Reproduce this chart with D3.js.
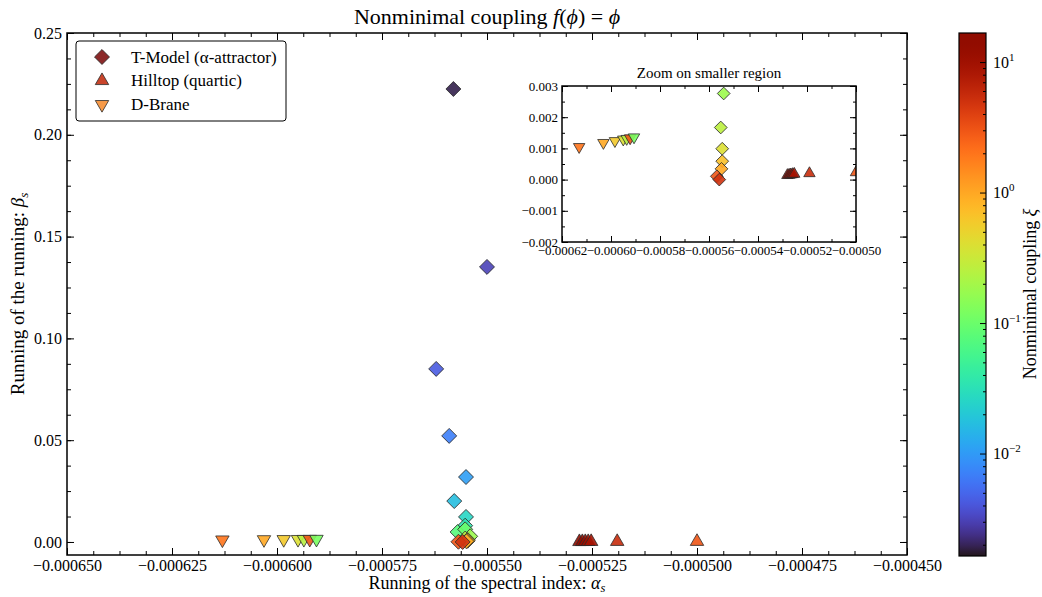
<!DOCTYPE html>
<html>
<head>
<meta charset="utf-8">
<script src="https://cdn.jsdelivr.net/npm/d3@7"></script>
<style>
  body { margin: 0; background: #fff; }
  svg text { font-family: "Liberation Serif", "DejaVu Serif", serif; fill: #000; }
</style>
</head>
<body>
<svg id="chart" width="1042" height="597"></svg>
<script>
// T-Model (alpha-attractor): running alpha_s, running of running beta_s, coupling xi
var tmodelAlpha = [-0.000558, -0.000550, -0.0005621, -0.000559, -0.000555, -0.0005578, -0.000555, -0.0005552,
  -0.000557, -0.0005552, -0.000554, -0.0005552, -0.0005546, -0.0005546, -0.0005549, -0.0005568, -0.0005558];
var tmodelBeta = [0.2225, 0.1351, 0.0850, 0.0521, 0.0319, 0.0201, 0.0123, 0.0080,
  0.0049, 0.0062, 0.00276, 0.00167, 0.00099, 0.00059, 0.000345, 0.000107, 0.0];
var tmodelXi = [0.0019, 0.0031, 0.0043, 0.0068, 0.0105, 0.017, 0.026, 0.035,
  0.075, 0.1, 0.18, 0.26, 0.4, 0.7, 1.0, 3.0, 5.0];

// Hilltop (quartic)
var hilltopAlpha = [-0.000528, -0.0005273, -0.0005266, -0.0005259, -0.0005252, -0.000519, -0.0005];
var hilltopBeta = [0.00014, 0.00015, 0.00016, 0.00017, 0.00018, 0.0002, 0.00023];
var hilltopXi = [16, 14, 12, 10.5, 9, 5.5, 3];

// D-Brane
var dbraneAlpha = [-0.000613, -0.0006031, -0.0005984, -0.000595, -0.0005936, -0.0005922, -0.0005906];
var dbraneBeta = [0.00105, 0.00118, 0.00124, 0.00129, 0.00131, 0.00133, 0.00136];
var dbraneXi = [2.0, 1.0, 0.6, 0.4, 0.25, 3.0, 0.12];

var legendLabels = ["T-Model (\u03b1-attractor)", "Hilltop (quartic)", "D-Brane"];
var legendColors = ["#8c2a2a", "#c9452b", "#f79a48"];
var colorbarTicks = [0.01, 0.1, 1, 10];
var xiDomain = [0.00164, 16.7];

const svg = d3.select("#chart");
const color = d3.scaleSequentialLog(d3.interpolateTurbo).domain(xiDomain);

const zip = (a, b, c) => a.map((v, i) => ({ a: v, b: b[i], xi: c[i] }));
const series = [
  { name: "tmodel", shape: "diamond", pts: zip(tmodelAlpha, tmodelBeta, tmodelXi) },
  { name: "hilltop", shape: "up", pts: zip(hilltopAlpha, hilltopBeta, hilltopXi) },
  { name: "dbrane", shape: "down", pts: zip(dbraneAlpha, dbraneBeta, dbraneXi) }
];

function markerPath(shape, scale) {
  if (shape === "diamond") return d3.symbol(d3.symbolSquare, 112 * scale * scale)();
  return d3.symbol(d3.symbolTriangle, 78 * scale * scale)();
}
function markerRot(shape) {
  return shape === "diamond" ? 45 : (shape === "down" ? 180 : 0);
}

// generic inward-tick frame
function frame(g, x, y, opt) {
  const [x0, x1] = x.range(), [y0, y1] = y.range();
  const w = x1 - x0, h = y0 - y1;
  const mk = (axis, scale, vals, size, fmt, tr) => {
    const a = g.append("g").attr("transform", tr)
      .call(axis(scale).tickValues(vals).tickSize(-size).tickSizeOuter(0)
        .tickPadding(opt.pad).tickFormat(fmt || ""));
    a.select(".domain").remove();
    a.selectAll("line").attr("stroke", "#000").attr("stroke-width", 1);
    a.selectAll("text").style("font-size", opt.font + "px").attr("fill", "#000");
    return a;
  };
  mk(d3.axisBottom, x, opt.xMajor, opt.major, opt.xFmt, `translate(0,${y0})`);
  mk(d3.axisBottom, x, opt.xMinor, opt.minor, null, `translate(0,${y0})`);
  mk(d3.axisTop, x, opt.xMajor, opt.major, null, `translate(0,${y1})`);
  mk(d3.axisTop, x, opt.xMinor, opt.minor, null, `translate(0,${y1})`);
  mk(d3.axisLeft, y, opt.yMajor, opt.major, opt.yFmt, `translate(${x0},0)`);
  mk(d3.axisLeft, y, opt.yMinor, opt.minor, null, `translate(${x0},0)`);
  mk(d3.axisRight, y, opt.yMajor, opt.major, null, `translate(${x1},0)`);
  mk(d3.axisRight, y, opt.yMinor, opt.minor, null, `translate(${x1},0)`);
  g.append("rect").attr("x", x0).attr("y", y1).attr("width", w).attr("height", h)
    .attr("fill", "none").attr("stroke", "#000").attr("stroke-width", 1.5);
}

function stepVals(lo, hi, step) {
  const out = [];
  const n = Math.round((hi - lo) / step);
  for (let i = 0; i <= n; i++) out.push(lo + i * step);
  return out;
}

function drawPoints(g, x, y, scale) {
  series.forEach(s => {
    g.append("g").selectAll("path")
      .data(s.pts)
      .enter()
      .append("path")
      .attr("d", markerPath(s.shape, scale))
      .attr("transform", d => `translate(${x(d.a)},${y(d.b)}) rotate(${markerRot(s.shape)})`)
      .attr("fill", d => color(d.xi))
      .attr("fill-opacity", 0.9)
      .attr("stroke", "#2b2b2b")
      .attr("stroke-width", 0.8);
  });
}

// ---------- main axes ----------
const x = d3.scaleLinear().domain([-0.00065, -0.00045]).range([67, 907]);
const y = d3.scaleLinear().domain([-0.0064, 0.25]).range([555, 33]);
const main = svg.append("g");

drawPoints(main, x, y, 1);

frame(main, x, y, {
  major: 7, minor: 4, pad: 5, font: 16,
  xMajor: stepVals(-0.00065, -0.00045, 0.000025),
  xMinor: stepVals(-0.00065, -0.00045, 0.00000625),
  yMajor: stepVals(0, 0.25, 0.05),
  yMinor: stepVals(0, 0.25, 0.0125),
  xFmt: d3.format(".6f"), yFmt: d3.format(".2f")
});

svg.append("text")
  .attr("x", 487).attr("y", 24).attr("text-anchor", "middle")
  .style("font-size", "22px")
  .html('Nonminimal coupling <tspan font-style="italic">f</tspan>(<tspan font-style="italic">\u03d5</tspan>) = <tspan font-style="italic">\u03d5</tspan>');

svg.append("text")
  .attr("x", 487).attr("y", 589).attr("text-anchor", "middle")
  .style("font-size", "18px")
  .html('Running of the spectral index: <tspan font-style="italic">\u03b1</tspan><tspan font-style="italic" font-size="12.5px" dy="3">s</tspan>');

svg.append("text")
  .attr("transform", "translate(24,294) rotate(-90)")
  .attr("text-anchor", "middle")
  .style("font-size", "19px")
  .html('Running of the running: <tspan font-style="italic">\u03b2</tspan><tspan font-style="italic" font-size="13px" dy="4">s</tspan>');

// ---------- legend ----------
const legend = svg.append("g");
legend.append("rect")
  .attr("x", 76).attr("y", 41).attr("width", 210).attr("height", 80)
  .attr("rx", 3).attr("fill", "#fff").attr("stroke", "#000").attr("stroke-width", 1);
legendLabels.forEach((lab, i) => {
  const yy = 57 + i * 23.7;
  const shape = series[i].shape;
  legend.append("path")
    .attr("d", markerPath(shape, 1))
    .attr("transform", `translate(102,${yy}) rotate(${markerRot(shape)})`)
    .attr("fill", legendColors[i])
    .attr("stroke", "#2b2b2b").attr("stroke-width", 0.8);
  legend.append("text")
    .attr("x", 131).attr("y", yy + 5.5)
    .style("font-size", "17px")
    .text(lab);
});

// ---------- inset ----------
const ix = d3.scaleLinear().domain([-0.00062, -0.0005]).range([562, 856]);
const iy = d3.scaleLinear().domain([-0.002, 0.003]).range([242, 86]);
const inset = svg.append("g");
inset.append("rect").attr("x", 562).attr("y", 86).attr("width", 294).attr("height", 156).attr("fill", "#fff");
svg.append("clipPath").attr("id", "insetClip")
  .append("rect").attr("x", 562).attr("y", 86).attr("width", 294).attr("height", 156);
const insetPts = inset.append("g").attr("clip-path", "url(#insetClip)");
drawPoints(insetPts, ix, iy, 0.85);

frame(inset, ix, iy, {
  major: 6, minor: 3, pad: 4, font: 13,
  xMajor: stepVals(-0.00062, -0.0005, 0.00002),
  xMinor: stepVals(-0.00062, -0.0005, 0.00001),
  yMajor: stepVals(-0.002, 0.003, 0.001),
  yMinor: stepVals(-0.002, 0.003, 0.0005),
  xFmt: d3.format(".5f"), yFmt: d3.format(".3f")
});

inset.append("text")
  .attr("x", 709).attr("y", 78).attr("text-anchor", "middle")
  .style("font-size", "15px")
  .text("Zoom on smaller region");

// ---------- colorbar ----------
const cbX = 959, cbW = 27;
const cy = d3.scaleLog().domain(xiDomain).range([556, 33]);
const grad = svg.append("defs").append("linearGradient")
  .attr("id", "cbGrad").attr("x1", 0).attr("y1", 1).attr("x2", 0).attr("y2", 0);
d3.range(0, 1.0001, 0.02).forEach(t => {
  grad.append("stop").attr("offset", t).attr("stop-color", d3.interpolateTurbo(t));
});
svg.append("rect")
  .attr("x", cbX).attr("y", 33).attr("width", cbW).attr("height", 523)
  .attr("fill", "url(#cbGrad)");

const minorCb = [];
for (let e = -3; e <= 1; e++) {
  for (let m = 2; m <= 9; m++) {
    const v = m * Math.pow(10, e);
    if (v > xiDomain[0] && v < xiDomain[1]) minorCb.push(v);
  }
}
const cbAxis = svg.append("g").attr("transform", `translate(${cbX + cbW},0)`)
  .call(d3.axisRight(cy).tickValues(colorbarTicks).tickSize(-6).tickSizeOuter(0).tickPadding(7)
    .tickFormat(d => "10"));
cbAxis.select(".domain").remove();
cbAxis.selectAll(".tick text")
  .style("font-size", "16px")
  .append("tspan")
  .attr("font-size", "11px")
  .attr("dy", "-7")
  .text(d => String(Math.round(Math.log10(d))).replace("-", "\u2212"));
const cbMinor = svg.append("g").attr("transform", `translate(${cbX + cbW},0)`)
  .call(d3.axisRight(cy).tickValues(minorCb).tickSize(-3).tickSizeOuter(0).tickFormat(""));
cbMinor.select(".domain").remove();
cbAxis.selectAll("line").attr("stroke", "#000");
cbMinor.selectAll("line").attr("stroke", "#000");
svg.append("rect")
  .attr("x", cbX).attr("y", 33).attr("width", cbW).attr("height", 523)
  .attr("fill", "none").attr("stroke", "#000").attr("stroke-width", 1.2);

svg.append("text")
  .attr("transform", "translate(1036,294) rotate(-90)")
  .attr("text-anchor", "middle")
  .style("font-size", "18px")
  .html('Nonminimal coupling <tspan font-style="italic">\u03be</tspan>');
</script>
</body>
</html>
